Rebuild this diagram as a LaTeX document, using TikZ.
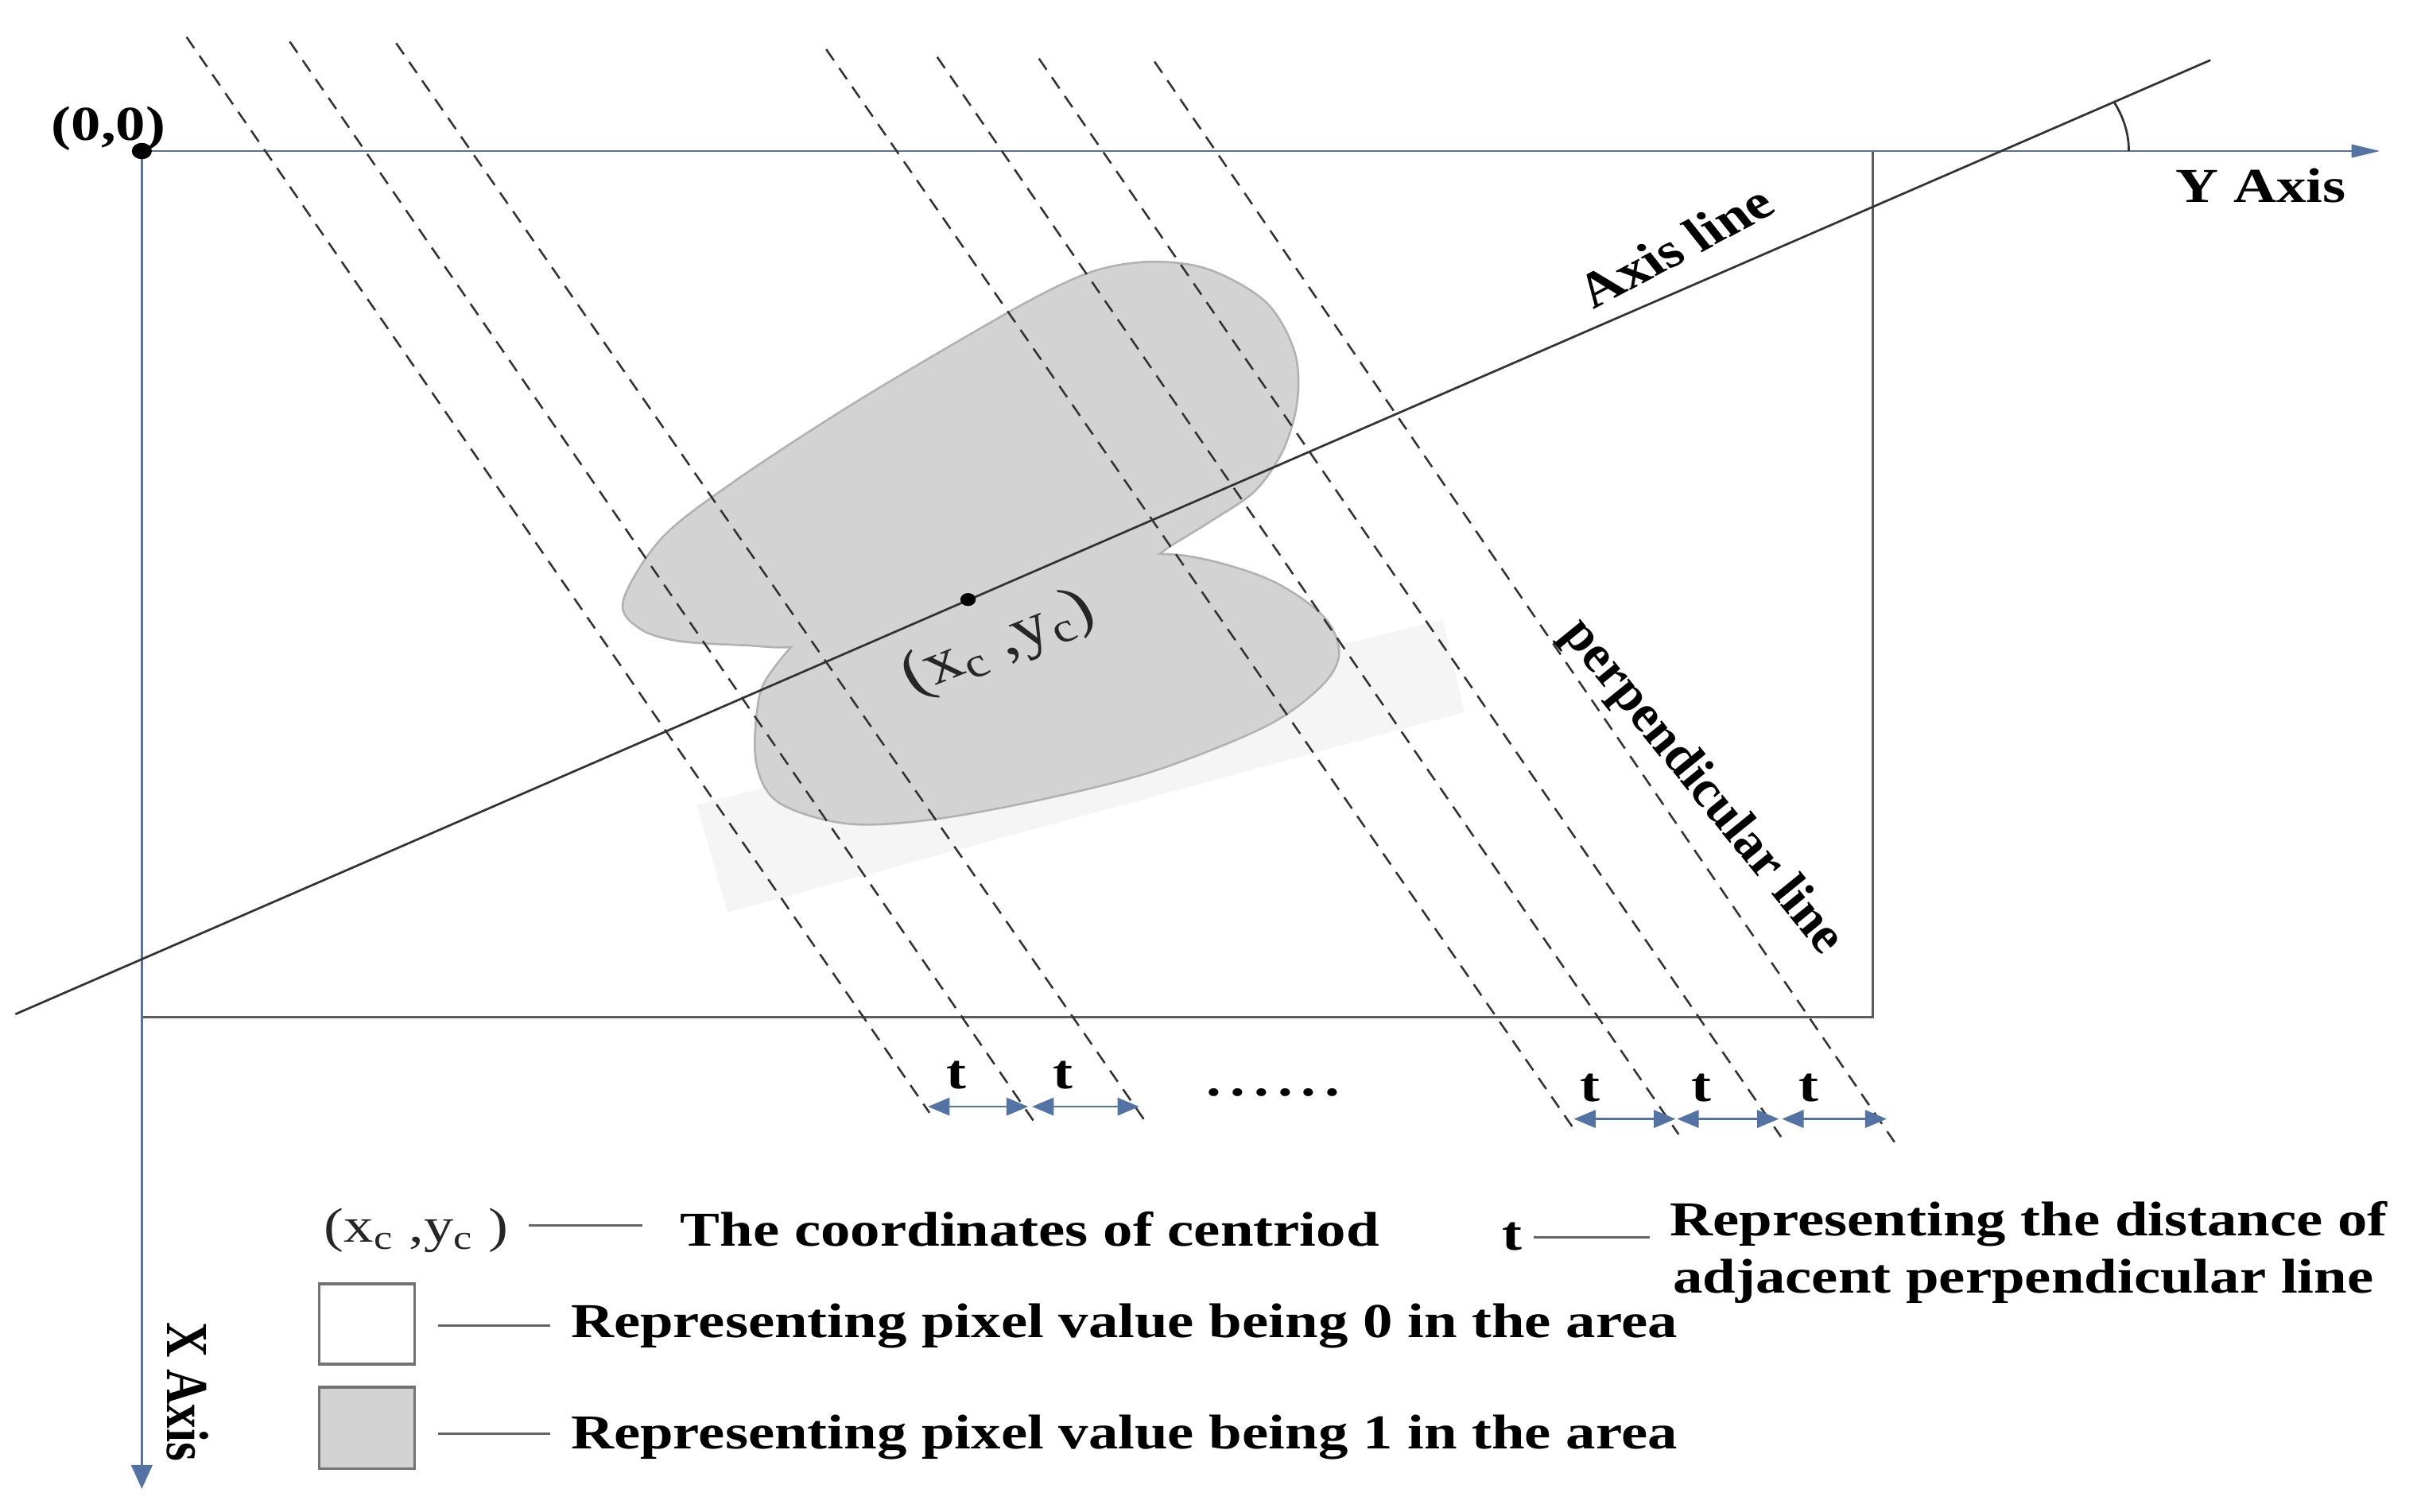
\documentclass[tikz,border=0pt]{standalone}
\usepackage{fontspec}
\setmainfont{Liberation Serif}
\usetikzlibrary{arrows.meta}
\definecolor{axisblue}{RGB}{84,115,165}
\definecolor{rectc}{RGB}{90,92,96}
\definecolor{blobfill}{RGB}{211,211,211}
\definecolor{blobrim}{RGB}{178,178,178}
\definecolor{legline}{RGB}{100,100,100}
\begin{document}
\begin{tikzpicture}[x=0.02cm, y=-0.02cm,
  lbl/.style={font=\fontsize{18}{21}\selectfont\bfseries, inner sep=0pt, xscale=1.22, text=black},
  rlbl/.style={font=\fontsize{18}{21}\selectfont, inner sep=0pt, xscale=1.22, text=black!85},
  perpline/.style={draw=black!80, line width=0.75pt, dash pattern=on 5pt off 3.4pt},
  tarrow/.style={draw=axisblue, line width=0.8pt, {Triangle[length=8pt,width=6.5pt]}-{Triangle[length=8pt,width=6.5pt]}},
  legendline/.style={draw=legline, line width=0.9pt},
  legendbox/.style={draw=black!55, line width=1pt}
]
\useasboundingbox (0,0) rectangle (1568,981);

% faint shadow
\fill[black!4] (452,522) -- (472,592) -- (950,462) -- (936,402) -- cycle;

% blobs: rims first, fills on top
\draw[blobrim, line width=1.6pt] plot[smooth cycle, tension=0.55] coordinates {
 (405,390) (430,349.5) (477.3,312.6) (549.6,265.2) (622,222) (676.2,191.5)
 (712.4,175.8) (748.6,170.5) (784.8,175.8) (821,196.8) (839.1,228.4) (840.9,260)
 (831.8,291.6) (813.7,317.9) (786,337) (760,353) (728,373) (650,398)
 (570,412) (515,419) (484.5,418) (441.1,415.3) (415.7,407.4)};
\draw[blobrim, line width=1.6pt] plot[smooth cycle, tension=0.55] coordinates {
 (530,405) (567.7,391.6) (640.1,373.2) (712.4,362.6) (766.7,361) (821,375.8)
 (857.1,399.5) (868,423.2) (857.1,444.2) (821,470.5) (748.6,499.5) (676.2,517.9)
 (603.9,531.1) (549.6,533.7) (506.2,520.5) (491.7,496.9) (491.7,462.6) (499,439)};
\fill[blobfill] plot[smooth cycle, tension=0.55] coordinates {
 (405,390) (430,349.5) (477.3,312.6) (549.6,265.2) (622,222) (676.2,191.5)
 (712.4,175.8) (748.6,170.5) (784.8,175.8) (821,196.8) (839.1,228.4) (840.9,260)
 (831.8,291.6) (813.7,317.9) (786,337) (760,353) (728,373) (650,398)
 (570,412) (515,419) (484.5,418) (441.1,415.3) (415.7,407.4)};
\fill[blobfill] plot[smooth cycle, tension=0.55] coordinates {
 (530,405) (567.7,391.6) (640.1,373.2) (712.4,362.6) (766.7,361) (821,375.8)
 (857.1,399.5) (868,423.2) (857.1,444.2) (821,470.5) (748.6,499.5) (676.2,517.9)
 (603.9,531.1) (549.6,533.7) (506.2,520.5) (491.7,496.9) (491.7,462.6) (499,439)};

% image frame
\coordinate (O) at (92,98);
\draw[rectc, line width=0.8pt] (O) rectangle (1215,660);
% axes
\coordinate (Yend) at (1544,98);
\coordinate (Xend) at (92,966);
\draw[axisblue, line width=0.8pt, -{Triangle[length=10.5pt,width=4.8pt]}] (O) -- (Yend);
\draw[axisblue, line width=0.8pt, -{Triangle[length=8.8pt,width=7.8pt]}] (O) -- (Xend);

% axis line and angle
\coordinate (AL1) at (10,658);
\coordinate (AL2) at (1434,39);
\draw[black!80, line width=0.8pt] (AL1) -- (AL2);
\coordinate (ArcS) at (1371.4,66.2);
\draw[black!80, line width=0.8pt] (ArcS) arc[start angle=-27.9, end angle=0, x radius=83, y radius=68];

% perpendicular lines
\coordinate (L1a) at (121,24);   \coordinate (L1b) at (603,722);
\coordinate (L2a) at (188,27);   \coordinate (L2b) at (671,728);
\coordinate (L3a) at (257,28);   \coordinate (L3b) at (744,729);
\coordinate (L4a) at (536,32);   \coordinate (L4b) at (1020,731);
\coordinate (L5a) at (608,37);   \coordinate (L5b) at (1089,736);
\coordinate (L6a) at (674,38);   \coordinate (L6b) at (1155.4,737.6);
\coordinate (L7a) at (749,40);   \coordinate (L7b) at (1229,741);
\foreach \i in {1,...,7} \draw[perpline] (L\i a) -- (L\i b);

% t arrows
\coordinate (A1a) at (602,718);   \coordinate (A1b) at (667,718);
\coordinate (A2a) at (669.5,718); \coordinate (A2b) at (739,718);
\coordinate (B1a) at (1021,726);  \coordinate (B1b) at (1087,726);
\coordinate (B2a) at (1088,726);  \coordinate (B2b) at (1154,726);
\coordinate (B3a) at (1156,726);  \coordinate (B3b) at (1224,726);
\draw[tarrow] (A1a) -- (A1b);
\draw[tarrow] (A2a) -- (A2b);
\draw[tarrow] (B1a) -- (B1b);
\draw[tarrow] (B2a) -- (B2b);
\draw[tarrow] (B3a) -- (B3b);

% dots
\fill[black] (O) ellipse[x radius=6.5, y radius=5.3];
\coordinate (C) at (628,389);
\fill[black] (C) ellipse[x radius=5, y radius=4.2];

% labels
\node[lbl, anchor=base west] (origin) at (33,91) {(0,0)};
\node[lbl, anchor=base west] (yaxis) at (1411,131.5) {Y Axis};
\node[lbl, rotate=-90] (xaxis) at (122,903) {X Axis};
\node[lbl, rotate=33] (axisline) at (1086.7,160) {Axis line};
\node[font=\fontsize{19.5}{22}\selectfont\bfseries, inner sep=0pt, rotate=-51] (perp) at (1104,511) {perpendicular line};
\node[rlbl, font=\fontsize{22}{24}\selectfont, rotate=26] (cent) at (648,418) {(x\textsubscript{c} ,y\textsubscript{c})};
\node[lbl, anchor=base] (t1) at (620.5,706.6) {t};
\node[lbl, anchor=base] (t2) at (689.6,706.6) {t};
\node[lbl, anchor=base] (t3) at (1031.6,714.4) {t};
\node[lbl, anchor=base] (t4) at (1103.8,714.4) {t};
\node[lbl, anchor=base] (t5) at (1173.4,714.4) {t};
\node[lbl, anchor=base] (dots) at (826,711) {\addfontfeatures{LetterSpace=15}......};

% legend
\node[rlbl, anchor=base west] (legc) at (210,806) {(x\textsubscript{c} ,y\textsubscript{c} )};
\coordinate (lc1) at (343,795); \coordinate (lc2) at (417,795);
\draw[legendline] (lc1) -- (lc2);
\node[lbl, anchor=base west] (legctext) at (441,808.7) {The coordinates of centriod};

\node[legendbox, fill=white, minimum width=1.24cm, minimum height=1.04cm, inner sep=0pt] (box0) at (238,859) {};
\coordinate (l01) at (284,860); \coordinate (l02) at (357,860);
\draw[legendline] (l01) -- (l02);
\node[lbl, anchor=base west] (leg0) at (370,868) {Representing pixel value being 0 in the area};

\node[legendbox, fill=blobfill, minimum width=1.24cm, minimum height=1.06cm, inner sep=0pt] (box1) at (238,926.5) {};
\coordinate (l11) at (284,930); \coordinate (l12) at (357,930);
\draw[legendline] (l11) -- (l12);
\node[lbl, anchor=base west] (leg1) at (370,940) {Representing pixel value being 1 in the area};

\node[lbl, anchor=base] (legt) at (981,811) {t};
\coordinate (lt1) at (995,803); \coordinate (lt2) at (1070,803);
\draw[legendline] (lt1) -- (lt2);
\node[lbl, anchor=base west] (legt1) at (1083,802) {Representing the distance of};
\node[lbl, anchor=base west] (legt2) at (1085,839) {adjacent perpendicular line};
\end{tikzpicture}
\end{document}
